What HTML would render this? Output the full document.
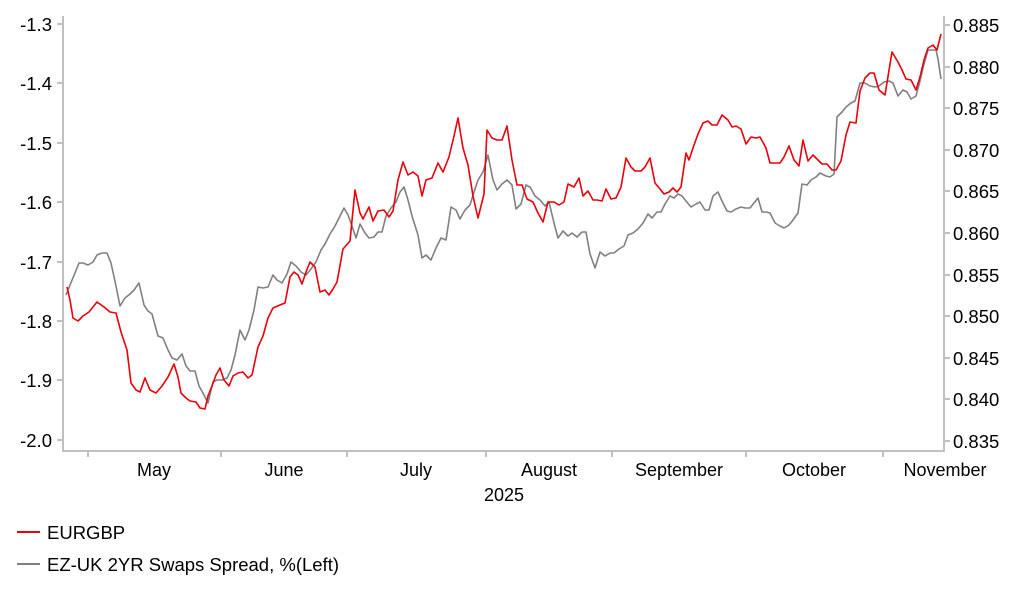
<!DOCTYPE html><html><head><meta charset="utf-8"><style>body{margin:0;background:#fff}svg{display:block;font-family:"Liberation Sans",Arial,sans-serif}</style></head><body>
<svg width="1022" height="597" viewBox="0 0 1022 597">
<g stroke="#c0c0c0" stroke-width="2" fill="none">
<path d="M63,16V451H944V16"/>
<path d="M57,24H63M57,83H63M57,143H63M57,202H63M57,262H63M57,321H63M57,380H63M57,440H63"/>
<path d="M944,25H950M944,67H950M944,108H950M944,150H950M944,191H950M944,233H950M944,275H950M944,316H950M944,358H950M944,399H950M944,441H950"/>
<path d="M88,451V457M221,451V457M347,451V457M486,451V457M612,451V457M746,451V457M883,451V457"/>
</g>
<g font-size="18.5" fill="#000" text-anchor="end">
<text x="52" y="31">-1.3</text><text x="52" y="90">-1.4</text><text x="52" y="150">-1.5</text><text x="52" y="209">-1.6</text><text x="52" y="269">-1.7</text><text x="52" y="328">-1.8</text><text x="52" y="387">-1.9</text><text x="52" y="447">-2.0</text>
</g>
<g font-size="18.5" fill="#000">
<text x="953" y="32">0.885</text><text x="953" y="74">0.880</text><text x="953" y="115">0.875</text><text x="953" y="157">0.870</text><text x="953" y="198">0.865</text><text x="953" y="240">0.860</text><text x="953" y="282">0.855</text><text x="953" y="323">0.850</text><text x="953" y="365">0.845</text><text x="953" y="406">0.840</text><text x="953" y="448">0.835</text>
</g>
<g font-size="18" fill="#000" text-anchor="middle">
<text x="154" y="476">May</text><text x="284" y="476">June</text><text x="416" y="476">July</text><text x="549" y="476">August</text><text x="679" y="476">September</text><text x="814" y="476">October</text><text x="945" y="476">November</text>
<text x="504" y="501">2025</text>
</g>
<polyline fill="none" stroke="#808080" stroke-width="1.6" stroke-linejoin="round" points="66,295 70,285 75,273 79,263 83,263 88,265 93,262 97,255 102,253 107,253 111,263 116,286 120,306 125,298 130,294 134,290 139,283 144,305 148,311 152,314 158,336 163,338 168,350 172,358 177,360 182,354 186,366 190,371 195,371 199,386 204,395 208,403 213,382 217,380 222,380 227,378 231,370 235,355 240,330 245,340 249,330 254,310 258,287 263,288 268,287 273,275 277,280 282,283 287,274 291,262 296,266 301,272 306,275 311,269 316,262 321,250 325,244 330,234 335,226 339,218 344,208 348,215 352,226 356,238 360,224 365,233 369,238 374,237 378,232 382,232 386,216 391,208 396,202 400,192 404,187 408,200 412,216 418,235 422,258 426,255 431,260 436,248 441,238 446,240 451,207 456,210 460,219 465,210 470,205 474,192 478,180 483,172 488,155 493,180 497,190 502,184 507,180 512,185 516,209 521,204 526,185 530,187 535,196 540,200 545,206 549,202 554,223 558,238 563,231 568,236 572,233 577,237 582,232 586,232 590,254 595,268 600,252 605,256 610,253 614,253 619,249 624,246 628,235 633,233 638,229 643,223 648,214 652,218 657,212 661,212 665,204 670,196 674,198 678,194 682,196 686,201 691,207 696,204 700,202 705,210 709,210 713,196 718,192 722,201 727,211 731,212 736,209 741,207 745,208 750,208 754,203 758,198 762,212 766,212 770,213 775,223 780,226 784,228 789,225 793,220 798,213 802,184 807,185 811,180 816,177 820,173 826,176 830,177 834,174 837,117 842,112 846,107 851,103 855,101 860,83 865,83 870,86 875,87 879,86 884,82 889,81 893,83 898,96 903,90 907,92 911,99 916,96 920,81 924,64 928,50 932,50 936,50 938,59 941,79"/>
<polyline fill="none" stroke="#e8000b" stroke-width="1.6" stroke-linejoin="round" points="67,287 70,300 73,318 78,321 83,316 89,312 97,302 104,307 110,312 116,313 121,332 127,350 131,383 136,390 140,392 145,378 150,390 156,393 162,386 168,377 174,364 178,377 181,393 186,398 190,401 196,402 200,408 205,409 208,396 212,386 216,375 220,368 224,380 229,386 233,376 238,373 243,372 248,378 252,375 258,347 263,336 268,318 273,308 280,305 285,303 290,277 294,272 298,275 302,284 306,272 310,262 315,267 320,292 325,290 329,295 333,289 337,282 343,249 350,241 355,190 360,213 363,219 369,207 373,221 378,211 384,210 389,217 393,211 398,180 403,162 408,175 413,172 418,176 422,196 426,180 432,178 438,163 443,172 449,157 454,136 458,118 463,148 468,165 473,196 478,218 484,194 487,130 492,138 497,140 502,140 507,126 512,160 517,185 522,185 527,199 533,202 538,213 543,222 548,202 554,202 559,205 564,202 568,184 574,187 579,178 583,196 588,191 593,200 597,200 602,201 606,189 611,199 616,198 621,187 626,158 631,167 635,171 641,171 645,167 650,158 655,183 660,189 664,194 669,192 673,188 677,192 681,187 686,153 689,160 693,148 698,134 703,123 708,121 712,125 717,125 722,115 728,120 732,127 736,126 741,129 746,144 751,137 756,138 760,137 766,148 770,163 775,163 780,163 784,157 789,146 794,160 799,166 803,140 808,161 813,155 818,160 822,164 827,164 832,170 836,170 841,161 846,135 850,122 856,123 860,91 865,78 870,73 874,73 879,90 885,95 892,52 898,62 902,70 906,79 911,80 916,90 920,77 924,60 928,48 933,45 937,50 941,34"/>
<line x1="17" y1="532" x2="40" y2="532" stroke="#e8000b" stroke-width="2"/>
<line x1="17" y1="564" x2="40" y2="564" stroke="#808080" stroke-width="2"/>
<g font-size="18.5" fill="#000"><text x="47" y="539">EURGBP</text><text x="47" y="571">EZ-UK 2YR Swaps Spread, %(Left)</text></g>
</svg></body></html>
